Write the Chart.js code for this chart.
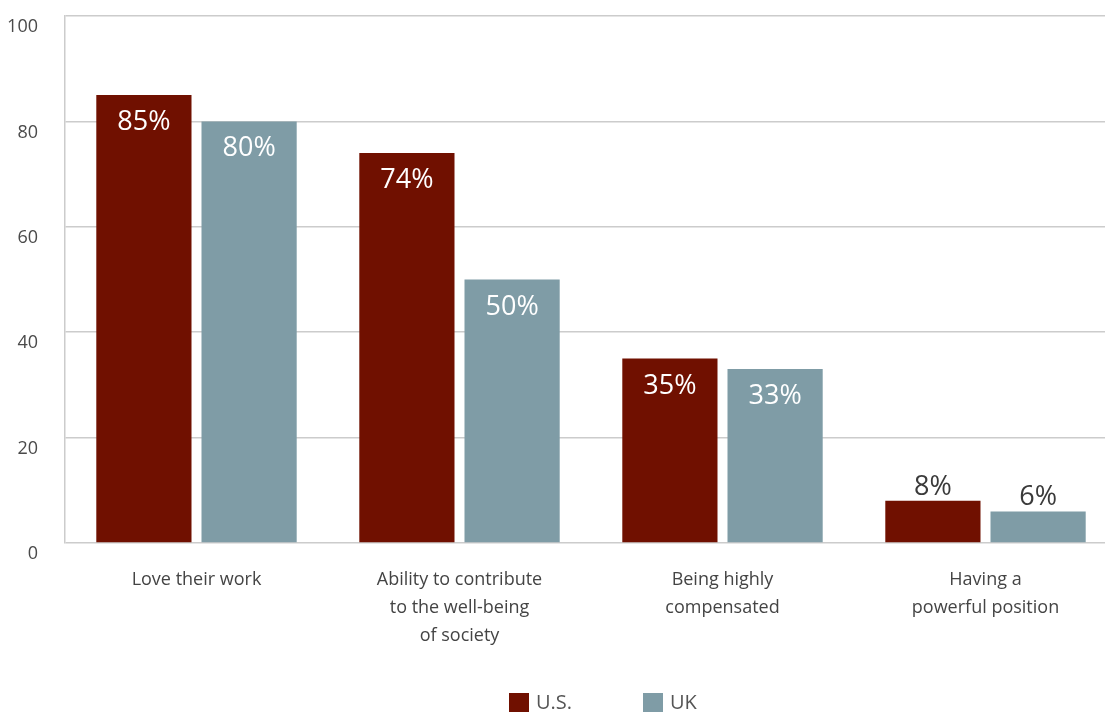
<!DOCTYPE html>
<html>
<head>
<meta charset="utf-8">
<script src="https://cdn.jsdelivr.net/npm/chart.js@4/dist/chart.umd.min.js"></script>
<style>
  html, body { margin: 0; padding: 0; background: #fff; overflow: hidden; }
  #marco { width: 1105px; height: 712px; overflow: hidden; position: relative; }
  #wrap { width: 1117px; height: 712px; position: relative; }
</style>
</head>
<body>
<div id="marco"><div id="wrap"><canvas id="grafico"></canvas></div></div>
<script>
// Motivaciones: porcentaje que responde cada opción
const categorias = [
    ['Love their work'],
    ['Ability to contribute', 'to the well-being', 'of society'],
    ['Being highly', 'compensated'],
    ['Having a', 'powerful position']
];
const valoresUS = [85, 74, 35, 8];
const valoresUK = [80, 50, 33, 6];
const nombresSeries = ['U.S.', 'UK'];
const coloresSeries = ['#701000', '#7f9ca6'];
const ticksY = [0, 20, 40, 60, 80, 100];

const fuente = "'Open Sans', 'Noto Sans', sans-serif";

// Etiquetas de valor: dentro de la barra si cabe, encima si es muy baja
const pluginEtiquetas = {
    id: 'etiquetasValor',
    afterDatasetsDraw(chart) {
        const ctx = chart.ctx;
        ctx.save();
        ctx.font = '27px ' + fuente;
        ctx.textAlign = 'center';
        ctx.textBaseline = 'alphabetic';
        chart.data.datasets.forEach((ds, i) => {
            const meta = chart.getDatasetMeta(i);
            meta.data.forEach((barra, j) => {
                const v = ds.data[j];
                const texto = v + '%';
                if (v >= 15) {
                    ctx.fillStyle = '#ffffff';
                    ctx.fillText(texto, barra.x, barra.y + 35);
                } else {
                    ctx.fillStyle = '#3a3a3a';
                    ctx.fillText(texto, barra.x, barra.y - 6);
                }
            });
        });
        ctx.restore();
    }
};

// Leyenda propia: cuadros de color con bastante separación entre elementos
const pluginLeyenda = {
    id: 'leyendaInferior',
    afterDraw(chart) {
        const ctx = chart.ctx;
        const posX = [509, 643];
        const y = 693;
        ctx.save();
        ctx.font = '20px ' + fuente;
        ctx.textBaseline = 'middle';
        ctx.textAlign = 'left';
        chart.data.datasets.forEach((ds, i) => {
            ctx.fillStyle = ds.backgroundColor;
            ctx.fillRect(posX[i], y, 20, 20);
            ctx.fillStyle = '#555555';
            ctx.fillText(ds.label, posX[i] + 27, y + 10);
        });
        ctx.restore();
    }
};

new Chart(document.getElementById('grafico'), {
    type: 'bar',
    data: {
        labels: categorias,
        datasets: [
            { label: nombresSeries[0], data: valoresUS, backgroundColor: coloresSeries[0] },
            { label: nombresSeries[1], data: valoresUK, backgroundColor: coloresSeries[1] }
        ]
    },
    options: {
        responsive: true,
        maintainAspectRatio: false,
        animation: false,
        layout: { padding: { top: 16, right: 0, left: 0, bottom: 0 } },
        datasets: {
            bar: { barPercentage: 0.905, categoryPercentage: 0.8 }
        },
        scales: {
            x: {
                grid: { display: false },
                border: { display: false },
                ticks: {
                    color: '#444444',
                    padding: 15,
                    font: { family: fuente, size: 18, lineHeight: 1.556 },
                    maxRotation: 0,
                    autoSkip: false
                },
                afterFit(escala) {
                    escala.height = 712 - 543;
                    escala.paddingLeft = 0;
                    escala.paddingRight = 0;
                }
            },
            y: {
                min: 0,
                max: 100,
                afterBuildTicks(escala) { escala.ticks = ticksY.map(v => ({ value: v })); },
                grid: { color: '#cccccc', lineWidth: 1.5, drawTicks: false },
                border: { display: true, color: '#cccccc', width: 1.5 },
                ticks: {
                    color: '#4a4a4a',
                    padding: 27,
                    labelOffset: 11,
                    font: { family: fuente, size: 18 }
                },
                afterFit(escala) {
                    escala.width = 65;
                    escala.paddingTop = 0;
                    escala.paddingBottom = 0;
                }
            }
        },
        plugins: {
            legend: { display: false },
            tooltip: { enabled: false }
        }
    },
    plugins: [pluginEtiquetas, pluginLeyenda]
});
</script>
</body>
</html>
